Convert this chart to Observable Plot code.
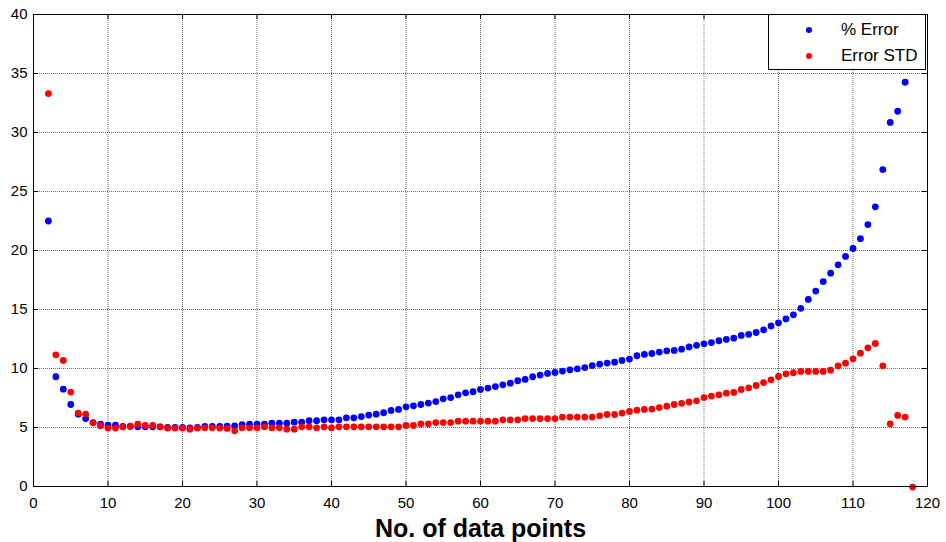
<!DOCTYPE html>
<html>
<head>
<meta charset="utf-8">
<script src="https://cdn.jsdelivr.net/npm/d3@7"></script>
<script src="https://cdn.jsdelivr.net/npm/@observablehq/plot@0.6"></script>
<style>
  body { margin: 0; background: #fff; font-family: Arial, "Liberation Sans", sans-serif; }
  #wrap { position: relative; width: 946px; height: 542px; }
  #legend { position: absolute; left: 768px; top: 14px; width: 158px; height: 56px; border: 1px solid #000; background: #fff; box-sizing: border-box; }
  .row { position: absolute; left: 0; height: 20px; width: 100%; font-size: 17px; line-height: 20px; color: #000; }
  .row .dot { position: absolute; left: 37px; top: 7px; width: 6px; height: 6px; border-radius: 50%; }
  .row .lab { position: absolute; left: 72px; top: 0; white-space: nowrap; }
</style>
</head>
<body>
<div id="wrap">
  <div id="chart"></div>
  <div id="legend"></div>
</div>
<script>
// ---- data ----
const seriesNames = ["% Error", "Error STD"];
const seriesColors = ["#0000ff", "#ff0000"];
const firstN = 2; // number of data points of the first value in each series

const pctError = [
  22.5, 9.3, 8.25, 6.95, 6.13, 5.76, 5.42, 5.28, 5.2, 5.2,
  5.09, 5.09, 5.06, 5.06, 5.06, 5.06, 5.0, 5.0, 5.0, 4.97,
  5.0, 5.09, 5.09, 5.09, 5.12, 5.14, 5.25, 5.28, 5.28, 5.28,
  5.37, 5.37, 5.37, 5.45, 5.45, 5.57, 5.57, 5.65, 5.65, 5.65,
  5.82, 5.82, 5.93, 6.05, 6.13, 6.25, 6.44, 6.53, 6.75, 6.84,
  6.95, 7.07, 7.2, 7.43, 7.54, 7.77, 7.94, 8.03, 8.22, 8.34,
  8.47, 8.62, 8.76, 8.96, 9.07, 9.3, 9.44, 9.58, 9.66, 9.78,
  9.89, 9.97, 10.08, 10.25, 10.37, 10.46, 10.54, 10.68, 10.8, 11.08,
  11.19, 11.27, 11.39, 11.5, 11.53, 11.64, 11.83, 11.96, 12.09, 12.2,
  12.35, 12.46, 12.57, 12.8, 12.9, 13.05, 13.28, 13.6, 13.87, 14.2,
  14.55, 15.1, 15.85, 16.56, 17.37, 18.08, 18.79, 19.5, 20.17, 21.0,
  22.2, 23.7, 26.86, 30.85, 31.8, 34.26
];

const errorStd = [
  33.3, 11.16, 10.68, 8.0, 6.22, 6.13, 5.4, 5.14, 4.95, 4.95,
  5.06, 5.12, 5.28, 5.17, 5.17, 5.06, 4.95, 4.95, 4.95, 4.86,
  4.95, 4.97, 4.97, 4.95, 4.92, 4.72, 4.97, 4.97, 4.97, 5.06,
  4.97, 4.97, 4.86, 4.86, 5.06, 5.06, 4.97, 5.06, 4.97, 5.06,
  5.06, 5.06, 5.06, 5.06, 5.06, 5.06, 5.06, 5.06, 5.17, 5.17,
  5.31, 5.31, 5.42, 5.42, 5.42, 5.54, 5.54, 5.54, 5.54, 5.54,
  5.54, 5.65, 5.65, 5.65, 5.76, 5.76, 5.76, 5.76, 5.76, 5.88,
  5.88, 5.88, 5.88, 5.88, 5.99, 6.1, 6.1, 6.22, 6.36, 6.47,
  6.53, 6.56, 6.69, 6.81, 6.95, 7.05, 7.16, 7.26, 7.54, 7.66,
  7.77, 7.91, 7.97, 8.22, 8.36, 8.56, 8.81, 9.04, 9.32, 9.55,
  9.64, 9.75, 9.75, 9.75, 9.75, 9.86, 10.23, 10.45, 10.82, 11.3,
  11.75, 12.12, 10.23, 5.31, 6.02, 5.88, -0.05
];

const xTicks = [0, 10, 20, 30, 40, 50, 60, 70, 80, 90, 100, 110, 120];
const yTicks = [0, 5, 10, 15, 20, 25, 30, 35, 40];
const xLabel = "No. of data points";

// ---- build table ----
const rows = [];
pctError.forEach((v, i) => rows.push({n: firstN + i, v, s: seriesNames[0]}));
errorStd.forEach((v, i) => rows.push({n: firstN + i, v, s: seriesNames[1]}));

const W = 946, H = 542, mL = 33, mR = 19, mT = 14, mB = 56;
const fw = W - mL - mR, fh = H - mT - mB, tl = 5;

const chart = Plot.plot({
  width: W, height: H,
  marginLeft: mL, marginRight: mR, marginTop: mT, marginBottom: mB,
  style: {fontFamily: "Arial, 'Liberation Sans', sans-serif", fontSize: "15px", color: "#000", background: "#fff"},
  x: {domain: [0, 120], ticks: xTicks},
  y: {domain: [0, 40], ticks: yTicks},
  color: {domain: seriesNames, range: seriesColors},
  marks: [
    Plot.gridX(xTicks, {stroke: "#6a6a6a", strokeOpacity: 1, strokeWidth: 1, strokeDasharray: "1,1"}),
    Plot.gridY(yTicks, {stroke: "#6a6a6a", strokeOpacity: 1, strokeWidth: 1, strokeDasharray: "1,1"}),
    Plot.dot(rows, {x: "n", y: "v", fill: "s", r: 3.4, stroke: null, clip: false}),
    // inward tick marks on all four sides
    Plot.tickX(xTicks, {x: d => d, insetTop: fh - tl, stroke: "#000"}),
    Plot.tickX(xTicks, {x: d => d, insetBottom: fh - tl, stroke: "#000"}),
    Plot.tickY(yTicks, {y: d => d, insetRight: fw - tl, stroke: "#000"}),
    Plot.tickY(yTicks, {y: d => d, insetLeft: fw - tl, stroke: "#000"}),
    Plot.frame({stroke: "#000", strokeWidth: 1}),
    Plot.axisX(xTicks, {tickSize: 0, tickPadding: 11, fontSize: 15, label: null}),
    Plot.axisY(yTicks, {tickSize: 0, tickPadding: 6, fontSize: 15, label: null}),
    Plot.text([xLabel], {frameAnchor: "bottom", dy: 50, fontSize: 25, fontWeight: "bold", fill: "#000"})
  ]
});
document.getElementById("chart").appendChild(chart);

// ---- legend ----
const legend = document.getElementById("legend");
seriesNames.forEach((name, i) => {
  const row = document.createElement("div");
  row.className = "row";
  row.style.top = (5 + i * 26) + "px";
  row.innerHTML = `<span class="dot" style="background:${seriesColors[i]}"></span><span class="lab">${name}</span>`;
  legend.appendChild(row);
});
</script>
</body>
</html>
